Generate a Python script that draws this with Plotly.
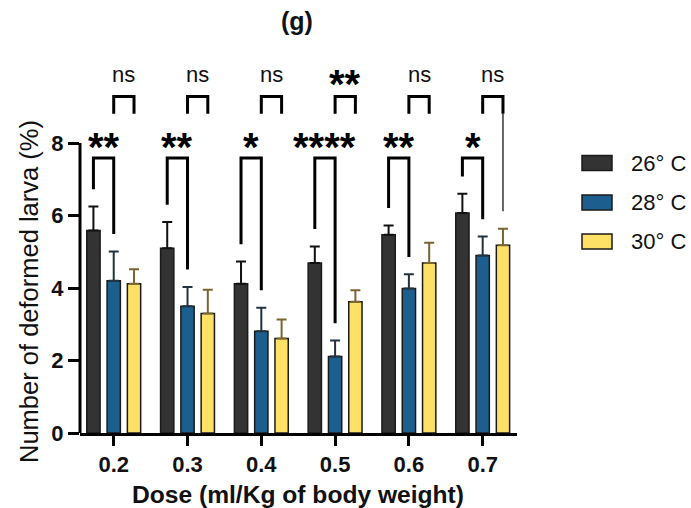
import plotly.graph_objects as go

# ---------------- data ----------------
doses = ["0.2", "0.3", "0.4", "0.5", "0.6", "0.7"]
series_names = ["26° C", "28° C", "30° C"]
mean_26 = [5.59, 5.10, 4.12, 4.69, 5.47, 6.07]
mean_28 = [4.20, 3.50, 2.81, 2.11, 3.99, 4.90]
mean_30 = [4.12, 3.30, 2.61, 3.62, 4.69, 5.18]
sem_26 = [0.66, 0.72, 0.61, 0.46, 0.26, 0.53]
sem_28 = [0.81, 0.53, 0.65, 0.44, 0.39, 0.52]
sem_30 = [0.40, 0.65, 0.52, 0.32, 0.56, 0.46]
sig_26_vs_28 = ["**", "**", "*", "****", "**", "*"]
sig_28_vs_30 = ["ns", "ns", "ns", "**", "ns", "ns"]
long_right_leg_28_vs_30 = [False, False, False, False, False, True]
y_ticks = [0, 2, 4, 6, 8]

# ---------------- style ----------------
FONT = "Liberation Sans, Arial, sans-serif"
fills = ["#333333", "#1c5f8f", "#fde066"]
err_colors = ["#111111", "#22323f", "#7a6530"]
BARGAP = 0.175
BARGROUPGAP = 0.345
slot = (1 - BARGAP) / 3
Y_MAX = 10.57
LOW_TOP = 7.59
UP_TOP = 9.29
UP_LEG = 0.48
GAP = 0.48

means = [mean_26, mean_28, mean_30]
sems = [sem_26, sem_28, sem_30]
xs = list(range(len(doses)))

fig = go.Figure()
for k in range(3):
    fig.add_trace(go.Bar(
        x=xs, y=means[k], name=series_names[k],
        marker=dict(color=fills[k], line=dict(color="#1a1a1a", width=1.5)),
        error_y=dict(type="data", array=sems[k], arrayminus=[0] * len(doses),
                     symmetric=False, color=err_colors[k], thickness=2, width=5),
        showlegend=False,
    ))

annotations = []
shapes = []

for i in xs:
    x0 = i - slot
    x1 = i
    x2 = i + slot
    cap26 = mean_26[i] + sem_26[i]
    cap28 = mean_28[i] + sem_28[i]
    cap30 = mean_30[i] + sem_30[i]
    # lower bracket 26 vs 28
    fig.add_trace(go.Scatter(
        x=[x0, x0, x1, x1], y=[cap26 + GAP, LOW_TOP, LOW_TOP, cap28 + GAP],
        mode="lines", line=dict(color="black", width=3),
        showlegend=False, hoverinfo="skip"))
    # upper bracket 28 vs 30
    fig.add_trace(go.Scatter(
        x=[x1, x1, x2, x2], y=[UP_TOP - UP_LEG, UP_TOP, UP_TOP, UP_TOP - UP_LEG],
        mode="lines", line=dict(color="black", width=3),
        showlegend=False, hoverinfo="skip"))
    if long_right_leg_28_vs_30[i]:
        fig.add_trace(go.Scatter(
            x=[x2, x2], y=[UP_TOP - UP_LEG, cap30 + GAP],
            mode="lines", line=dict(color="black", width=1.2),
            showlegend=False, hoverinfo="skip"))
    # labels
    for lab, xc, yc in [(sig_26_vs_28[i], (x0 + x1) / 2, 8.09),
                        (sig_28_vs_30[i], (x1 + x2) / 2, 9.83)]:
        if "*" in lab:
            annotations.append(dict(x=xc, y=yc, xref="x", yref="y", text="<b>" + lab + "</b>",
                                    showarrow=False, yanchor="middle", yshift=-7,
                                    font=dict(family=FONT, size=40, color="black")))
        else:
            annotations.append(dict(x=xc, y=yc, xref="x", yref="y", text=lab,
                                    showarrow=False, yanchor="middle", yshift=2,
                                    font=dict(family=FONT, size=22, color="#111111")))

# y axis line (only 0..8)
shapes.append(dict(type="line", xref="paper", yref="y", x0=0, x1=0,
                   y0=0, y1=y_ticks[-1], line=dict(color="black", width=3)))

# custom legend
L, R, T, B = 80, 174, 50, 75
W, H = 691, 508
pw, ph = W - L - R, H - T - B
def px2paper_x(px):
    return (px - L) / pw
def px2paper_y(py):
    return (H - B - py) / ph
legend_rows = [163, 202.5, 241.5]
for k in range(3):
    cy = legend_rows[k]
    shapes.append(dict(type="rect", xref="paper", yref="paper",
                       x0=px2paper_x(582), x1=px2paper_x(612),
                       y0=px2paper_y(cy + 7.5), y1=px2paper_y(cy - 7.5),
                       fillcolor=fills[k], line=dict(color="#1a1a1a", width=1.5)))
    annotations.append(dict(x=px2paper_x(629), y=px2paper_y(cy), xref="paper", yref="paper",
                            text=series_names[k], showarrow=False, xanchor="left",
                            yanchor="middle", font=dict(family=FONT, size=22, color="#111111")))

# titles
annotations.append(dict(x=px2paper_x(297), y=px2paper_y(21), xref="paper", yref="paper",
                        text="<b>(g)</b>", showarrow=False, xanchor="center", yanchor="middle",
                        font=dict(family=FONT, size=25, color="#111111")))
annotations.append(dict(x=px2paper_x(298), y=px2paper_y(494), xref="paper", yref="paper",
                        text="<b>Dose (ml/Kg of body weight)</b>", showarrow=False,
                        xanchor="center", yanchor="middle",
                        font=dict(family=FONT, size=24.6, color="#111111")))
annotations.append(dict(x=px2paper_x(29), y=px2paper_y(292), xref="paper", yref="paper",
                        text="Number of deformed larva (%)", showarrow=False, textangle=-90,
                        xanchor="center", yanchor="middle",
                        font=dict(family=FONT, size=25.5, color="#111111")))

fig.update_layout(
    width=W, height=H,
    margin=dict(l=L, r=R, t=T, b=B, pad=0),
    paper_bgcolor="white", plot_bgcolor="white",
    barmode="group", bargap=BARGAP, bargroupgap=BARGROUPGAP,
    font=dict(family=FONT, color="#111111"),
    annotations=annotations, shapes=shapes,
    showlegend=False,
)
fig.update_xaxes(
    range=[-0.457, 5.465], tickmode="array", tickvals=xs, ticktext=doses,
    showline=True, linecolor="black", linewidth=3,
    ticks="outside", ticklen=10, tickwidth=2.5, tickcolor="black",
    tickfont=dict(family=FONT, size=22, color="#111111", weight="bold"),
    showgrid=False, zeroline=False, fixedrange=True,
)
fig.update_yaxes(
    range=[0, Y_MAX], tickmode="array", tickvals=y_ticks,
    showline=False, ticks="outside", ticklen=11, tickwidth=2.5, tickcolor="black",
    tickfont=dict(family=FONT, size=22, color="#111111", weight="bold"),
    showgrid=False, zeroline=False, fixedrange=True,
)

fig.write_html("out.html", config={"displayModeBar": False},
               post_script="document.body.style.margin='0';document.body.style.overflow='hidden';")
